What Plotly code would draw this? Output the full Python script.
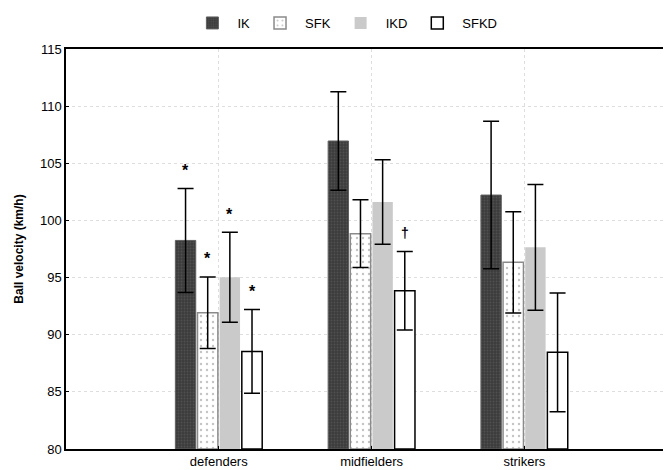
import plotly.graph_objects as go

categories = ["defenders", "midfielders", "strikers"]
series = ["IK", "SFK", "IKD", "SFKD"]

IK_mean = [98.25, 106.95, 102.22]
IK_err = [4.55, 4.3, 6.45]
SFK_mean = [91.93, 98.84, 96.33]
SFK_err = [3.13, 2.96, 4.42]
IKD_mean = [95.02, 101.61, 97.65]
IKD_err = [3.94, 3.7, 5.5]
SFKD_mean = [88.54, 93.85, 88.46]
SFKD_err = [3.66, 3.44, 5.2]

# significance marks: (series index, category index, symbol)
marks = [(0, 0, "*"), (1, 0, "*"), (2, 0, "*"), (3, 0, "*"), (3, 1, "†")]

y_ticks = [80, 85, 90, 95, 100, 105, 110, 115]

means = [IK_mean, SFK_mean, IKD_mean, SFKD_mean]
errs = [IK_err, SFK_err, IKD_err, SFKD_err]

styles = [
    dict(color="#3c3c3c", line=dict(color="#606060", width=1),
         pattern=dict(shape=".", fgcolor="#505050", bgcolor="#3c3c3c", size=3, solidity=0.3)),
    dict(color="#ffffff", line=dict(color="#8a8a8a", width=1.5),
         pattern=dict(shape=".", fgcolor="#c4c4c4", bgcolor="#ffffff", size=6, solidity=0.12)),
    dict(color="#cacaca", line=dict(color="#cacaca", width=0)),
    dict(color="#ffffff", line=dict(color="#000000", width=1.5)),
]

xs = list(range(len(categories)))
fig = go.Figure()
for i, name in enumerate(series):
    fig.add_trace(go.Bar(
        x=xs, y=[m - 80 for m in means[i]], base=80, name=name,
        marker=styles[i],
        error_y=dict(type="data", array=errs[i], color="#000000", thickness=1.5, width=8),
    ))

bargap = 0.42
slot = (1 - bargap) / len(series)
annotations = []
for si, ci, sym in marks:
    xpos = ci + (si - (len(series) - 1) / 2) * slot
    ypos = means[si][ci] + errs[si][ci] + 1.6
    annotations.append(dict(x=xpos, y=ypos, text="<b>" + sym + "</b>", showarrow=False,
                            font=dict(size=16 if sym == "*" else 14, color="#000000",
                                      family="Liberation Sans, Arial"),
                            xanchor="center", yanchor="middle"))

fig.update_layout(
    template="none",
    width=663, height=462,
    margin=dict(l=58, r=0, t=41, b=21, pad=0),
    paper_bgcolor="white", plot_bgcolor="white",
    barmode="group", bargap=bargap, bargroupgap=0.08,
    font=dict(family="Liberation Sans, Arial", size=13, color="#000000"),
    showlegend=True,
    legend=dict(orientation="h", x=0.461, xanchor="center", y=1.065, yanchor="middle",
                font=dict(size=13), itemwidth=40, traceorder="normal",
                bgcolor="rgba(0,0,0,0)"),
    annotations=annotations,
    xaxis=dict(range=[-1, 2.96], tickmode="array", tickvals=xs, ticktext=categories,
               showgrid=True, gridcolor="#dedede", griddash="dot", gridwidth=1,
               showline=True, linecolor="#000000", linewidth=1.5, mirror=True,
               ticks="inside", ticklen=3, tickcolor="#000000", zeroline=False,
               tickfont=dict(size=13)),
    yaxis=dict(range=[80, 115], tickmode="array", tickvals=y_ticks,
               showgrid=True, gridcolor="#dedede", griddash="dot", gridwidth=1,
               showline=True, linecolor="#000000", linewidth=1.5,
               ticks="inside", ticklen=3, tickcolor="#000000", zeroline=False,
               tickfont=dict(size=13),
               title=dict(text="<b>Ball velocity (km/h)</b>", font=dict(size=12), standoff=14)),
)

fig.write_html("out.html")
